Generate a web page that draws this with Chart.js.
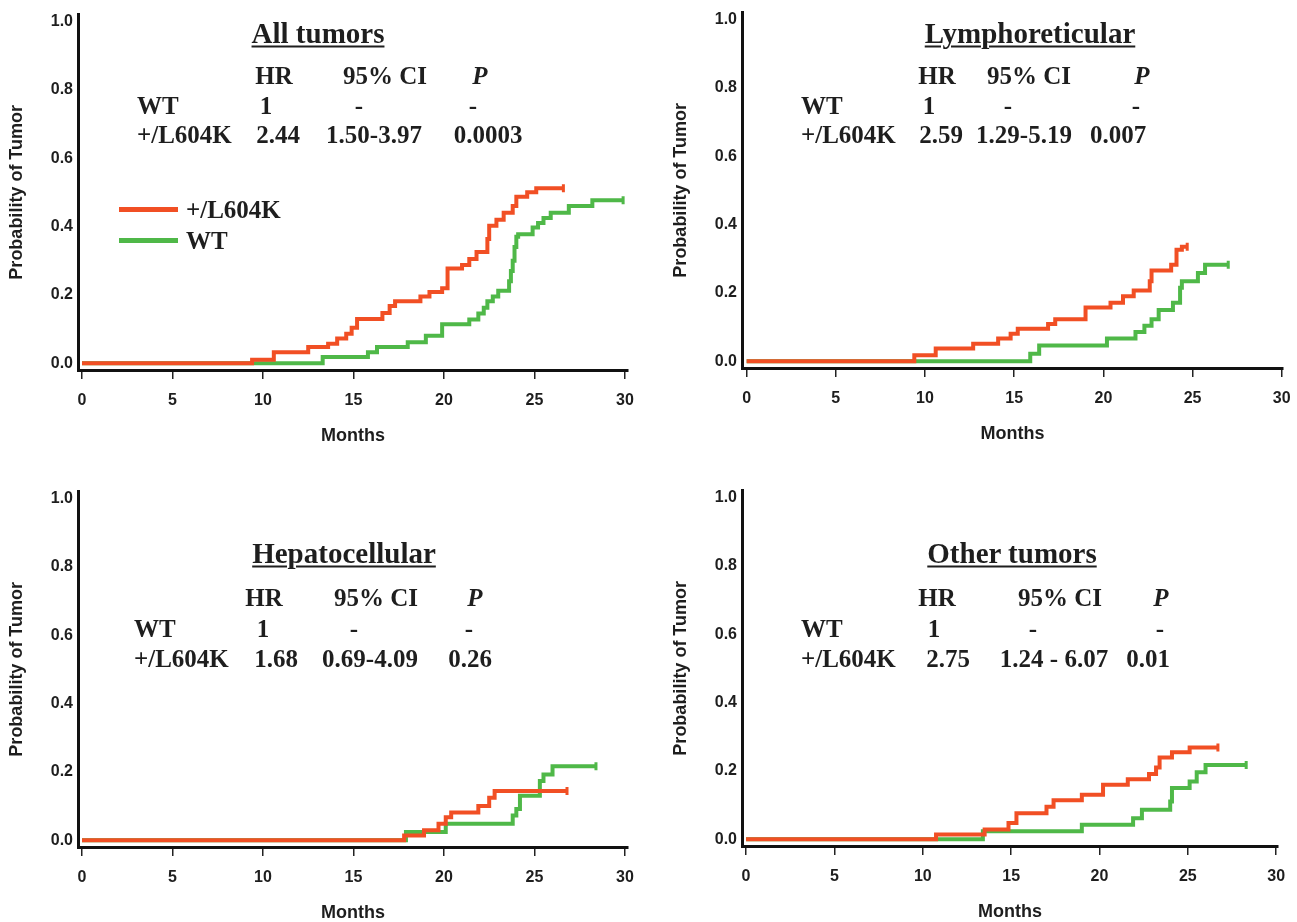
<!DOCTYPE html>
<html>
<head>
<meta charset="utf-8">
<script src="https://cdn.jsdelivr.net/npm/chart.js@4.4.1/dist/chart.umd.min.js"></script>
<style>
html, body { margin: 0; padding: 0; background: #fff; overflow: hidden; }
#page { position: relative; width: 1297px; height: 922px; overflow: hidden; }
.panel { position: absolute; }
.txt { position: absolute; font-family: "Liberation Serif", "Times New Roman", serif; font-weight: bold;
  font-size: 25px; line-height: 1; white-space: nowrap; color: #1e1e1e; }
.c { transform: translate(-50%, -50%); }
.l { transform: translate(0, -50%); }
.title { font-size: 29px; text-decoration: underline; text-decoration-thickness: 2px; text-underline-offset: 3px; }
.it { font-style: italic; }
.leg { position: absolute; height: 5px; width: 59px; }
</style>
</head>
<body>
<div id="page">
  <canvas id="c1" class="panel" width="660" height="460" style="left:0px;top:0px"></canvas>
  <canvas id="c2" class="panel" width="660" height="460" style="left:664px;top:-2px"></canvas>
  <canvas id="c3" class="panel" width="660" height="460" style="left:0px;top:477px"></canvas>
  <canvas id="c4" class="panel" width="660" height="460" style="left:664px;top:476px"></canvas>
</div>
<script>
// series: months where the cumulative probability steps up, and the new level
const allMutT = [0, 9.4, 10.6, 12.5, 13.6, 14.1, 14.6, 14.9, 15.2, 16.6, 17.0, 17.3, 18.7, 19.2, 19.9, 20.2, 21.0, 21.4, 21.8, 22.4, 22.5, 22.9, 23.3, 23.8, 24.0, 24.6, 25.1, 26.6];
const allMutP = [0, 0.01, 0.032, 0.047, 0.057, 0.072, 0.086, 0.104, 0.129, 0.147, 0.167, 0.181, 0.195, 0.208, 0.219, 0.277, 0.287, 0.305, 0.325, 0.363, 0.402, 0.42, 0.44, 0.46, 0.487, 0.5, 0.512, 0.512];
const allWtT = [0, 13.3, 15.8, 16.3, 18.0, 19.0, 19.9, 21.4, 21.9, 22.2, 22.4, 22.7, 23.0, 23.6, 23.7, 23.8, 23.9, 24.0, 24.1, 24.9, 25.2, 25.5, 25.9, 26.9, 28.2, 29.9];
const allWtP = [0, 0.018, 0.032, 0.047, 0.061, 0.08, 0.114, 0.128, 0.145, 0.162, 0.181, 0.195, 0.212, 0.24, 0.27, 0.30, 0.34, 0.37, 0.377, 0.397, 0.41, 0.425, 0.44, 0.46, 0.477, 0.477];

const lymMutT = [0, 9.4, 10.6, 12.7, 14.1, 14.8, 15.2, 16.9, 17.3, 19.0, 20.4, 21.1, 21.7, 22.6, 22.7, 23.8, 24.1, 24.4, 24.7];
const lymMutP = [0, 0.017, 0.037, 0.051, 0.066, 0.08, 0.095, 0.109, 0.123, 0.157, 0.171, 0.19, 0.207, 0.234, 0.265, 0.282, 0.326, 0.335, 0.335];
const lymWtT = [0, 15.9, 16.4, 20.2, 21.8, 22.3, 22.7, 23.1, 23.9, 24.3, 24.4, 25.3, 25.7, 27.0];
const lymWtP = [0, 0.022, 0.046, 0.066, 0.085, 0.104, 0.123, 0.15, 0.171, 0.215, 0.234, 0.258, 0.282, 0.282];

const hepMutT = [0, 17.8, 18.9, 19.7, 20.1, 20.4, 21.9, 22.5, 22.8, 26.8];
const hepMutP = [0, 0.014, 0.029, 0.048, 0.067, 0.081, 0.1, 0.124, 0.144, 0.144];
const hepWtT = [0, 17.9, 20.1, 23.8, 24.0, 24.2, 25.3, 25.5, 26.0, 28.4];
const hepWtP = [0, 0.024, 0.048, 0.072, 0.091, 0.13, 0.173, 0.192, 0.216, 0.216];

const othMutT = [0, 10.75, 13.5, 14.85, 15.3, 17.0, 17.4, 19.0, 20.2, 21.6, 22.8, 23.2, 23.4, 24.1, 25.1, 26.7];
const othMutP = [0, 0.014, 0.028, 0.047, 0.076, 0.095, 0.114, 0.13, 0.159, 0.175, 0.191, 0.21, 0.239, 0.254, 0.268, 0.268];
const othWtT = [0, 13.4, 19.0, 21.9, 22.4, 24.0, 24.1, 25.1, 25.5, 26.0, 28.3];
const othWtP = [0, 0.023, 0.042, 0.061, 0.086, 0.11, 0.15, 0.169, 0.196, 0.217, 0.217];

// axes
const xTicks = [0, 5, 10, 15, 20, 25, 30];
const yTicks = [0, 0.2, 0.4, 0.6, 0.8, 1.0];

// text in each panel
const panelTitles = ['All tumors', 'Lymphoreticular', 'Hepatocellular', 'Other tumors'];
const groupNames = ['WT', '+/L604K'];
const headers = ['HR', '95% CI', 'P'];
const hrValues = ['2.44', '2.59', '1.68', '2.75'];
const ciValues = ['1.50-3.97', '1.29-5.19', '0.69-4.09', '1.24 - 6.07'];
const pValues = ['0.0003', '0.007', '0.26', '0.01'];

const RED = '#f14f24';
const GREEN = '#4fb848';

// where the text sits on the page (x centres, row y)
const textPos = [
	{ title: [318, 33], rows: [75, 105, 134], label: 137, hr: [274, 266, 278], ci: [385, 359, 374], p: [480, 473, 488] },
	{ title: [1030, 33], rows: [75, 105, 134], label: 801, hr: [937, 929, 941], ci: [1029, 1008, 1024], p: [1142, 1136, 1118] },
	{ title: [344, 553], rows: [597, 628, 658], label: 134, hr: [264, 263, 276], ci: [376, 354, 370], p: [475, 469, 470] },
	{ title: [1012, 553], rows: [597, 628, 658], label: 801, hr: [937, 934, 948], ci: [1060, 1033, 1054], p: [1161, 1160, 1148] },
];

function zip(t, p) {
	return t.map((v, i) => ({ x: v, y: p[i] }));
}

function curve(t, p, color) {
	const n = t.length;
	return {
		data: zip(t, p),
		borderColor: color,
		borderWidth: 4,
		stepped: 'before',
		fill: false,
		pointStyle: 'line',
		rotation: 90,
		pointRadius: (ctx) => (ctx.dataIndex === n - 1 ? 4 : 0),
		pointBorderColor: color,
		pointBorderWidth: 3,
		pointHoverRadius: 0,
	};
}

Chart.defaults.font.family = '"Liberation Sans", Arial, sans-serif';
Chart.defaults.color = '#1e1e1e';

function makeChart(id, mutT, mutP, wtT, wtP, xMin, xMax, rightPad) {
	const ctx = document.getElementById(id).getContext('2d');
	return new Chart(ctx, {
		type: 'line',
		data: {
			// red drawn on top of green
			datasets: [curve(mutT, mutP, RED), curve(wtT, wtP, GREEN)],
		},
		options: {
			responsive: false,
			animation: false,
			layout: { padding: { left: 0, top: 8, right: rightPad, bottom: 0 } },
			plugins: { legend: { display: false }, tooltip: { enabled: false } },
			scales: {
				x: {
					type: 'linear',
					min: xMin,
					max: xMax,
					afterBuildTicks: (s) => { s.ticks = xTicks.map((v) => ({ value: v })); },
					afterFit: (s) => { s.height = 90; },
					ticks: { font: { size: 16, weight: 'bold' }, padding: 12, maxRotation: 0, autoSkip: false, color: '#1e1e1e' },
					grid: { drawOnChartArea: false, drawTicks: true, tickLength: 9, color: '#222', lineWidth: 1.5 },
					border: { display: true, color: '#111', width: 3 },
					title: { display: true, text: 'Months', font: { size: 18, weight: 'bold' }, padding: { top: 0, bottom: 13 }, color: '#1e1e1e' },
				},
				y: {
					type: 'linear',
					min: -0.02,
					max: 1.02,
					afterBuildTicks: (s) => { s.ticks = yTicks.map((v) => ({ value: v })); },
					afterFit: (s) => { s.width = 78; },
					ticks: { font: { size: 16, weight: 'bold' }, padding: 5, callback: (v) => v.toFixed(1), color: '#1e1e1e' },
					grid: { display: false, drawTicks: false },
					border: { display: true, color: '#111', width: 3 },
					title: { display: true, text: 'Probability of Tumor', font: { size: 18, weight: 'bold' }, padding: { top: 6, bottom: 0 }, color: '#1e1e1e' },
				},
			},
		},
	});
}

makeChart('c1', allMutT, allMutP, allWtT, allWtP, -0.22, 30.17, 32);
makeChart('c2', lymMutT, lymMutP, lymWtT, lymWtP, -0.26, 30.07, 41);
makeChart('c3', hepMutT, hepMutP, hepWtT, hepWtP, -0.22, 30.17, 32);
makeChart('c4', othMutT, othMutP, othWtT, othWtP, -0.23, 30.1, 46);

// text tables (real text, overlaid on the charts)
const page = document.getElementById('page');
function addText(str, x, y, cls) {
	const d = document.createElement('div');
	d.className = 'txt ' + cls;
	d.textContent = str;
	d.style.left = x + 'px';
	d.style.top = y + 'px';
	page.appendChild(d);
}

textPos.forEach((pos, i) => {
	const [hy, wy, my] = pos.rows;
	addText(panelTitles[i], pos.title[0], pos.title[1], 'c title');
	addText(headers[0], pos.hr[0], hy, 'c');
	addText(headers[1], pos.ci[0], hy, 'c');
	addText(headers[2], pos.p[0], hy, 'c it');
	addText(groupNames[0], pos.label, wy, 'l');
	addText('1', pos.hr[1], wy, 'c');
	addText('-', pos.ci[1], wy, 'c');
	addText('-', pos.p[1], wy, 'c');
	addText(groupNames[1], pos.label, my, 'l');
	addText(hrValues[i], pos.hr[2], my, 'c');
	addText(ciValues[i], pos.ci[2], my, 'c');
	addText(pValues[i], pos.p[2], my, 'c');
});

// legend in the first panel
[[groupNames[1], RED, 209], [groupNames[0], GREEN, 240]].forEach(([name, color, y]) => {
	const line = document.createElement('div');
	line.className = 'leg';
	line.style.left = '119px';
	line.style.top = (y - 2) + 'px';
	line.style.background = color;
	page.appendChild(line);
	addText(name, 186, y, 'l');
});
</script>
</body>
</html>
